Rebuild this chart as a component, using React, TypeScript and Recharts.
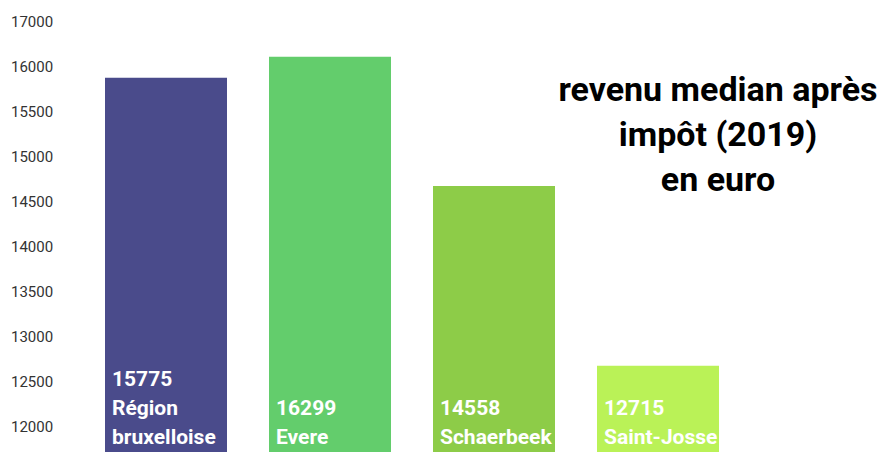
import React from 'react';
import { BarChart, Bar, XAxis, YAxis, Cell, LabelList } from 'recharts';

const categories = ['Région bruxelloise', 'Evere', 'Schaerbeek', 'Saint-Josse'];
const labelLines = [['Région', 'bruxelloise'], ['Evere'], ['Schaerbeek'], ['Saint-Josse']];
const labelValues = [15775, 16299, 14558, 12715];
const barValues = [15870, 16103, 14667, 12670];
const colors = ['#4a4b8b', '#63cd6c', '#8dcc48', '#baf257'];
const tickValues = [12000, 12500, 13000, 13500, 14000, 14500, 15000, 15500, 16000, 16500];
const tickLabels = ['12000', '12500', '13000', '13500', '14000', '14500', '15000', '15500', '16000', '17000'];
const titleLines = ['revenu median après', 'impôt (2019)', 'en euro'];

const data = categories.map((name, i) => ({ name, value: barValues[i] }));

const YTick = (props: any) => {
  const { y, payload } = props;
  const idx = tickValues.indexOf(payload.value);
  return (
    <text x={11} y={Number(y) + 1} dy="0.355em" fontSize={15} fill="#333" fontFamily="Roboto" textAnchor="start">
      {idx >= 0 ? tickLabels[idx] : payload.value}
    </text>
  );
};

const renderLabel = (props: any) => {
  const vb = props.viewBox || {};
  const x = Number(props.x ?? vb.x);
  const y = Number(props.y ?? vb.y);
  const height = Number(props.height ?? vb.height);
  const index = props.index;
  const lines = [String(labelValues[index]), ...labelLines[index]];
  const bottom = y + height;
  const lh = 29;
  return (
    <g>
      {lines.map((t, k) => (
        <text
          key={k}
          x={x + 7}
          y={bottom - 15 - (lines.length - 1 - k) * lh}
          dy="0.355em"
          fill="#ffffff"
          fontSize={21}
          fontWeight={700}
          fontFamily="Roboto"
        >
          {t}
        </text>
      ))}
    </g>
  );
};

export default function App() {
  return (
    <div style={{ position: 'absolute', left: 0, top: 0, width: 880, height: 452, background: '#fff', overflow: 'hidden' }}>
      <BarChart width={880} height={452} data={data} margin={{ top: 3, right: 140, bottom: 0, left: 0 }} barCategoryGap={21}>
        <XAxis dataKey="name" hide />
        <YAxis
          type="number"
          domain={[11711, 16700]}
          ticks={tickValues}
          interval={0}
          allowDataOverflow
          axisLine={false}
          tickLine={false}
          width={84}
          tick={(p: any) => <YTick {...p} />}
        />
        <Bar dataKey="value" isAnimationActive={false}>
          {data.map((d, i) => (
            <Cell key={d.name} fill={colors[i]} />
          ))}
          <LabelList dataKey="value" content={renderLabel} />
        </Bar>
      </BarChart>
      <div
        style={{
          position: 'absolute',
          left: 557,
          width: 322,
          top: 67,
          textAlign: 'center',
          fontFamily: 'Roboto',
          fontWeight: 700,
          fontSize: 34,
          lineHeight: '45px',
          color: '#000',
        }}
      >
        {titleLines.map((t) => (
          <div key={t}>{t}</div>
        ))}
      </div>
    </div>
  );
}
